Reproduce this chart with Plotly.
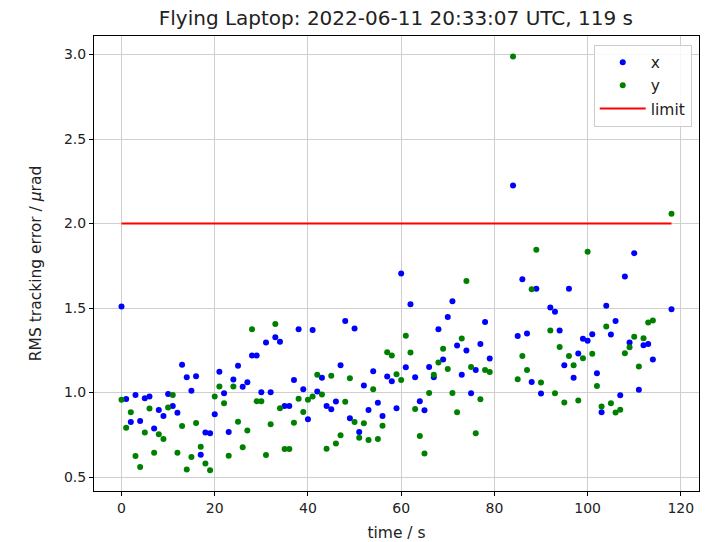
import plotly.graph_objects as go

time_s = list(range(0, 80)) + [84, 85, 86, 87, 88, 89, 90] + list(range(92, 115)) + [118]

x_err = [1.51, 0.962, 0.826, 0.986, 0.832, 0.966, 0.976, 0.787, 0.897, 0.862,
         0.992, 0.921, 0.881, 1.164, 1.091, 1.01, 1.097, 0.632, 0.763, 0.759,
         0.872, 1.123, 0.996, 0.767, 1.077, 1.158, 1.034, 1.061, 1.219, 1.219,
         1.002, 1.296, 1.002, 1.328, 1.30, 0.921, 0.921, 1.075, 1.374, 1.02,
         0.842, 1.37, 1.006, 1.087, 0.921, 0.901, 0.947, 1.162, 1.423, 0.848,
         1.379, 0.767, 1.042, 0.897, 1.126, 0.939, 0.862, 1.095, 1.067, 0.907,
         1.704, 1.15, 1.522, 1.091, 0.949, 0.895, 1.152, 1.091, 1.374, 1.196,
         1.447, 1.54, 1.279, 1.105, 1.249, 0.996, 1.134, 1.287, 1.417, 1.202,
         2.226, 1.335, 1.671, 1.349, 1.063, 1.614, 0.994,
         1.503, 1.478, 1.367, 1.162, 1.614, 1.087, 1.231, 1.318, 1.306, 1.345,
         1.114, 0.884, 1.513, 1.343, 1.424, 0.984, 1.687, 1.296, 1.825, 1.016,
         1.28, 1.288, 1.195,
         1.493]

y_err = [0.957, 0.792, 0.883, 0.625, 0.559, 0.763, 0.905, 0.644, 0.753, 0.725,
         0.911, 0.986, 0.644, 0.802, 0.545, 0.619, 0.82, 0.68, 0.58, 0.54,
         0.976, 1.036, 0.937, 0.626, 1.036, 0.828, 0.676, 0.775, 1.375, 0.949,
         0.949, 0.63, 0.812, 1.405, 0.907, 0.666, 0.666, 0.822, 0.964, 0.885,
         0.957, 0.976, 1.105, 0.988, 0.668, 1.099, 0.698, 0.747, 0.945, 1.085,
         0.826, 0.733, 0.818, 0.719, 1.02, 0.725, 0.804, 1.239, 1.219, 1.109,
         1.075, 1.336, 1.237, 0.903, 0.743, 0.64, 0.998, 1.105, 1.178, 1.259,
         1.14, 0.998, 0.883, 1.32, 1.66, 1.152, 0.759, 0.96, 1.134, 1.122,
         2.989, 1.079, 1.217, 1.134, 1.612, 1.845, 1.059,
         1.367, 0.996, 1.27, 0.941, 1.217, 1.162, 0.953, 1.203, 1.833, 1.229,
         1.039, 0.917, 1.391, 0.937, 0.882, 0.898, 1.233, 1.268, 1.331, 1.154,
         1.322, 1.414, 1.426,
         2.058]

limit_time = [0, 118]
limit_value = [2.0, 2.0]

x_ticks = [0, 20, 40, 60, 80, 100, 120]
y_ticks = [0.5, 1.0, 1.5, 2.0, 2.5, 3.0]

FONT = "DejaVu Sans"

fig = go.Figure()
fig.add_trace(go.Scatter(x=time_s, y=x_err, mode="markers", name="x",
                         marker=dict(color="#0000ff", size=6, line=dict(width=0))))
fig.add_trace(go.Scatter(x=time_s, y=y_err, mode="markers", name="y",
                         marker=dict(color="#008000", size=6, line=dict(width=0))))
fig.add_trace(go.Scatter(x=limit_time, y=limit_value, mode="lines", name="limit",
                         line=dict(color="#ff0000", width=2)))

axis_common = dict(showline=True, linecolor="black", linewidth=1, mirror=True,
                   ticks="outside", ticklen=4, tickcolor="black", automargin=False,
                   showgrid=True, gridcolor="#cfcfcf", gridwidth=1, zeroline=False,
                   tickfont=dict(family=FONT, size=14, color="#222"))

fig.update_layout(
    width=712, height=542,
    margin=dict(l=94, r=13, t=36, b=51),
    paper_bgcolor="white", plot_bgcolor="white",
    font=dict(family=FONT, color="#222"),
    title=dict(text="Flying Laptop: 2022-06-11 20:33:07 UTC, 119 s",
               x=0.556, xanchor="center", y=1 - 18 / 542, yanchor="middle",
               font=dict(family=FONT, size=20, color="#222")),
    xaxis=dict(range=[-5.9, 123.9], tickvals=x_ticks,
               title=dict(text="time / s", font=dict(family=FONT, size=15.5), standoff=12),
               **axis_common),
    yaxis=dict(range=[0.4175, 3.11], tickvals=y_ticks, tickformat=".1f",
               title=dict(text="RMS tracking error / <i>μ</i>rad", font=dict(family=FONT, size=15.5), standoff=18),
               **axis_common),
    legend=dict(x=0.988, xanchor="right", y=0.981, yanchor="top",
                bgcolor="rgba(255,255,255,0.85)", bordercolor="#cccccc", borderwidth=1,
                font=dict(family=FONT, size=15.5, color="#222"),
                itemsizing="trace", itemwidth=46),
    showlegend=True,
)

fig.write_html("out.html")
